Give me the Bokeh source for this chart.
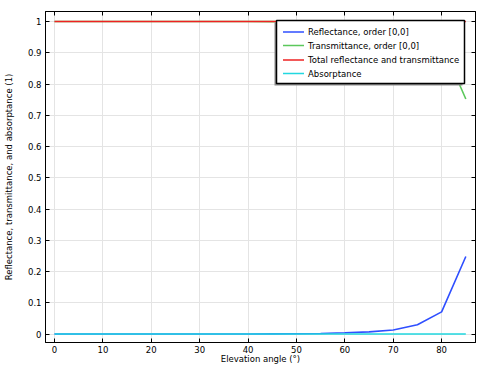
from bokeh.plotting import figure
from bokeh.models import (Range1d, FixedTicker, LinearAxis, CustomJSTickFormatter,
                          CustomLabelingPolicy, BoxAnnotation, Label, Arrow)
from bokeh.embed import file_html
from bokeh.resources import INLINE

angle = [0, 5, 10, 15, 20, 25, 30, 35, 40, 45, 50, 55, 60, 65, 70, 75, 80, 85]
reflectance = [0.0, 0.0, 0.0, 0.0, 0.0, 0.0, 0.0, 0.0, 0.0, 0.0005, 0.001, 0.002, 0.004, 0.007, 0.013, 0.030, 0.071, 0.248]
transmittance = [1.0, 1.0, 1.0, 1.0, 1.0, 1.0, 1.0, 1.0, 1.0, 0.9995, 0.999, 0.998, 0.996, 0.993, 0.987, 0.970, 0.929, 0.752]
total = [1.0] * 18
absorptance = [0.0] * 18

series_labels = ["Reflectance, order [0,0]", "Transmittance, order [0,0]",
                 "Total reflectance and transmittance", "Absorptance"]

x_ticks = [0, 10, 20, 30, 40, 50, 60, 70, 80]
y_ticks = [0, 0.1, 0.2, 0.3, 0.4, 0.5, 0.6, 0.7, 0.8, 0.9, 1.0]

FONT = "DejaVu Sans"
FS = "8.5px"
W, H = 479, 366
BL, BR, BT, BB = 45, 4, 11, 23
FH = H - BT - BB  # frame height
LW = 1.6

p = figure(width=W, height=H, output_backend="svg", toolbar_location=None,
           x_range=Range1d(-1.86, 87.0), y_range=Range1d(-0.027, 1.032),
           min_border_left=BL, min_border_right=BR, min_border_top=BT, min_border_bottom=BB)
p.outline_line_color = "black"
p.outline_line_width = 1

fmt = CustomJSTickFormatter(code="var s = tick.toFixed(1); return s.replace(/\\.0$/, '');")

for ax in p.xaxis:
    ax.ticker = FixedTicker(ticks=x_ticks)
    ax.axis_label = "Elevation angle (°)"
    ax.major_label_standoff = 3
    ax.axis_label_standoff = -2
for ax in p.yaxis:
    ax.ticker = FixedTicker(ticks=y_ticks)
    ax.formatter = fmt
    ax.axis_label = "Reflectance, transmittance, and absorptance (1)"
    ax.major_label_standoff = 4
    ax.axis_label_standoff = 11

for ax in p.xaxis + p.yaxis:
    ax.major_tick_in = 4
    ax.major_tick_out = 0
    ax.minor_tick_in = 0
    ax.minor_tick_out = 0
    ax.axis_line_color = "black"
    ax.major_tick_line_color = "black"
    ax.major_label_text_font = FONT
    ax.major_label_text_font_size = FS
    ax.major_label_text_color = "black"
    ax.axis_label_text_font = FONT
    ax.axis_label_text_font_size = FS
    ax.axis_label_text_font_style = "normal"
    ax.axis_label_text_color = "black"

hide_all = "for (const i of indices) { indices.unset(i) } return indices"
top = LinearAxis(ticker=FixedTicker(ticks=x_ticks),
                 major_label_policy=CustomLabelingPolicy(code=hide_all),
                 major_label_text_font_size="0px",
                 major_tick_in=4, major_tick_out=0, minor_tick_in=0, minor_tick_out=0,
                 major_label_standoff=0)
right = LinearAxis(ticker=FixedTicker(ticks=y_ticks),
                   major_label_policy=CustomLabelingPolicy(code=hide_all),
                   major_label_text_font_size="0px",
                   major_tick_in=4, major_tick_out=0, minor_tick_in=0, minor_tick_out=0,
                   major_label_standoff=0)
p.add_layout(top, "above")
p.add_layout(right, "right")

p.xgrid.ticker = FixedTicker(ticks=x_ticks)
p.ygrid.ticker = FixedTicker(ticks=y_ticks)
p.grid.grid_line_color = "#e4e4e4"
p.grid.grid_line_width = 1

c_blue = "#2f4fff"
c_green = "#5cc85c"
c_red = "#ee2222"
c_cyan = "#22d8e0"
colors = [c_blue, c_green, c_red, c_cyan]

p.line(angle, transmittance, line_color=c_green, line_width=LW)
p.line(angle, total, line_color=c_red, line_width=LW)
p.line(angle, reflectance, line_color=c_blue, line_width=LW)
p.line(angle, absorptance, line_color=c_cyan, line_width=LW)

# legend (screen units relative to frame: x from left, y from bottom)
def fy(y_from_top):
    return FH - y_from_top

lx0, lx1 = 231, 419
ly0, ly1 = 10, 73
p.add_layout(BoxAnnotation(left=lx0 - 2, right=lx1 - 2, top=fy(ly0 + 2), bottom=fy(ly1 + 2),
                           left_units="screen", right_units="screen",
                           top_units="screen", bottom_units="screen",
                           fill_color="#8a8a8a", fill_alpha=1, line_alpha=0))
p.add_layout(BoxAnnotation(left=lx0, right=lx1, top=fy(ly0), bottom=fy(ly1),
                           left_units="screen", right_units="screen",
                           top_units="screen", bottom_units="screen",
                           fill_color="white", fill_alpha=1,
                           line_color="black", line_width=1.5, line_alpha=1))
rows = [21.5, 35, 49.5, 63]
for lab, col, ry in zip(series_labels, colors, rows):
    p.add_layout(Arrow(end=None, x_start=237.5, x_end=258.5, y_start=fy(ry), y_end=fy(ry),
                       start_units="screen", end_units="screen",
                       line_color=col, line_width=LW))
    p.add_layout(Label(x=262.5, y=fy(ry), x_units="screen", y_units="screen", text=lab,
                       text_font=FONT, text_font_size=FS, text_color="black",
                       text_baseline="middle", text_align="left"))

open("out.html", "w").write(file_html(p, INLINE))
